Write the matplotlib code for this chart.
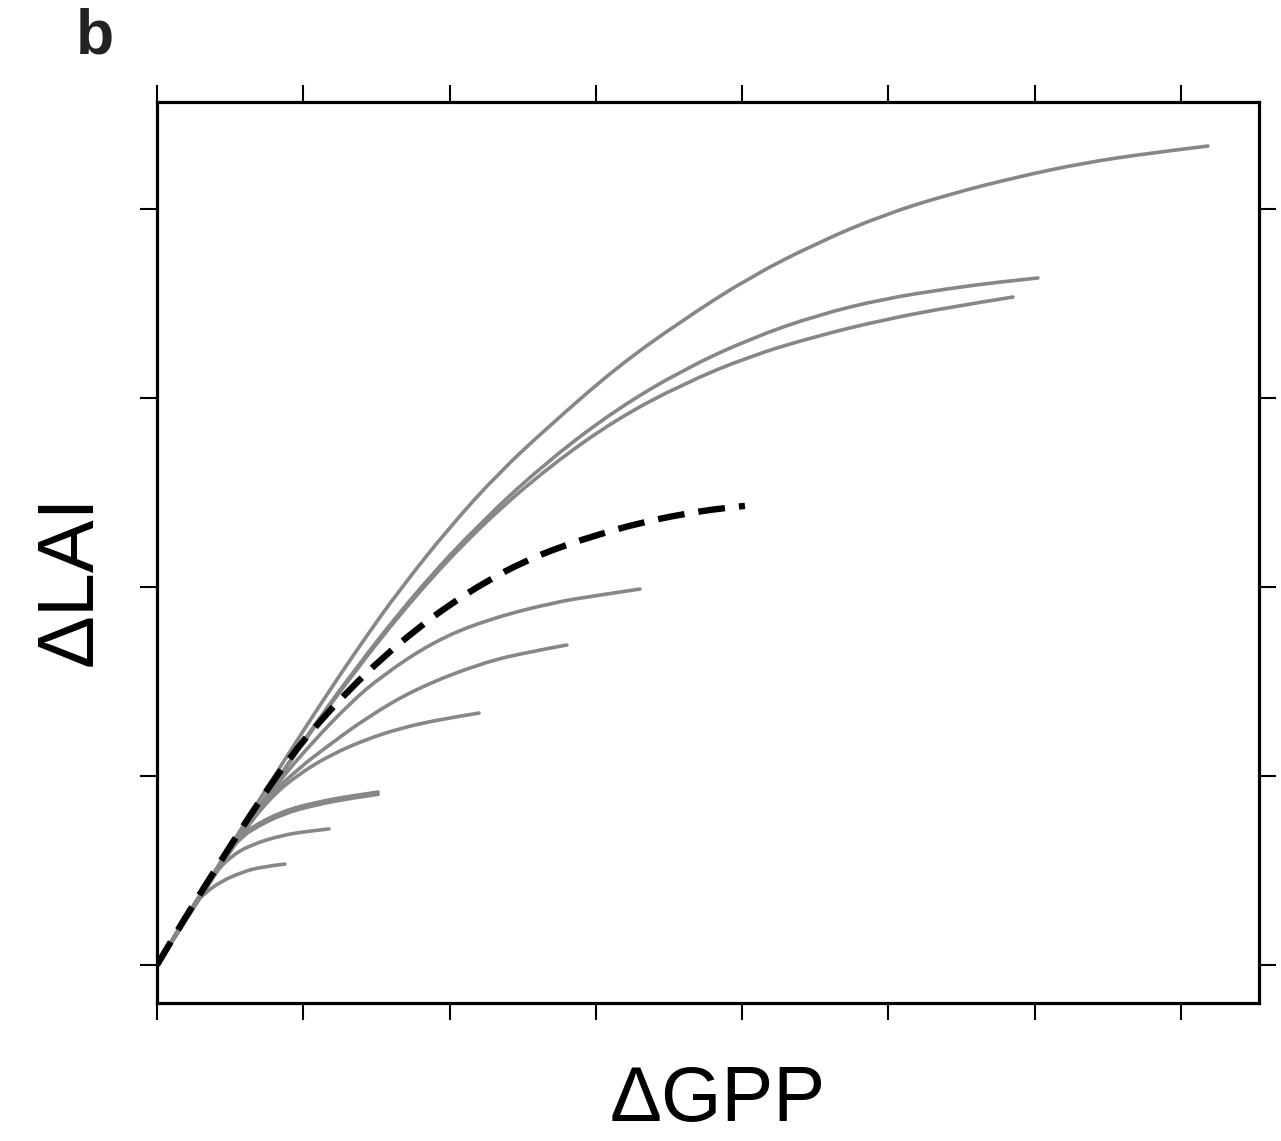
import matplotlib
matplotlib.use("Agg")
import matplotlib.pyplot as plt
from matplotlib.path import Path
from matplotlib.patches import PathPatch

# ---- data (arbitrary units, tick spacing = 1) ----
xA = [0, 0.109, 0.294, 0.567, 0.861, 1.135, 1.401, 1.661, 2.003, 2.344, 2.686, 3.144, 3.595, 4.053, 4.511, 4.962, 5.420, 5.878, 6.330, 6.787, 7.184]
yA = [0, 0.140, 0.371, 0.710, 1.072, 1.401, 1.707, 1.988, 2.320, 2.610, 2.855, 3.164, 3.413, 3.640, 3.820, 3.968, 4.079, 4.169, 4.243, 4.296, 4.333]

xB = [0, 0.294, 0.636, 0.977, 1.319, 1.777, 2.228, 2.686, 3.144, 3.595, 4.053, 4.511, 4.962, 5.420, 5.762, 6.022]
yB = [0, 0.360, 0.767, 1.159, 1.532, 1.981, 2.355, 2.676, 2.942, 3.149, 3.314, 3.438, 3.524, 3.580, 3.614, 3.635]

xC = [0, 0.294, 0.636, 0.977, 1.319, 1.777, 2.228, 2.686, 3.144, 3.595, 4.053, 4.511, 4.962, 5.420, 5.851]
yC = [0, 0.358, 0.763, 1.152, 1.522, 1.966, 2.335, 2.640, 2.890, 3.074, 3.222, 3.328, 3.413, 3.481, 3.534]

xE = [0, 0.294, 0.636, 0.841, 1.046, 1.319, 1.545, 1.887, 2.228, 2.686, 3.028, 3.301]
yE = [0, 0.360, 0.767, 0.979, 1.164, 1.386, 1.534, 1.709, 1.820, 1.915, 1.958, 1.989]

xF = [0, 0.294, 0.567, 0.772, 0.977, 1.135, 1.435, 1.777, 2.228, 2.550, 2.802]
yF = [0, 0.360, 0.693, 0.900, 1.045, 1.140, 1.310, 1.465, 1.600, 1.658, 1.693]

xG = [0, 0.294, 0.567, 0.772, 0.977, 1.203, 1.435, 1.661, 1.934, 2.201]
yG = [0, 0.360, 0.680, 0.885, 1.015, 1.118, 1.195, 1.252, 1.300, 1.333]

xH = [0, 0.294, 0.499, 0.567, 0.636, 0.861, 1.094, 1.319, 1.511]
yH1 = [0, 0.360, 0.619, 0.675, 0.725, 0.815, 0.862, 0.894, 0.915]
yH2 = [0, 0.360, 0.612, 0.664, 0.712, 0.801, 0.849, 0.882, 0.903]

xJ = [0, 0.157, 0.294, 0.396, 0.499, 0.636, 0.861, 1.046, 1.176]
yJ = [0, 0.201, 0.370, 0.487, 0.571, 0.635, 0.688, 0.709, 0.720]

xI = [0, 0.123, 0.246, 0.328, 0.431, 0.567, 0.704, 0.875]
yI = [0, 0.159, 0.317, 0.381, 0.439, 0.487, 0.519, 0.534]

xD = [0, 0.178, 0.362, 0.636, 0.909, 1.114, 1.319, 1.545, 1.777, 2.003, 2.256, 2.502, 2.755, 3.028, 3.301, 3.595, 3.869, 4.019]
yD = [0, 0.233, 0.460, 0.794, 1.101, 1.290, 1.460, 1.628, 1.778, 1.908, 2.032, 2.132, 2.212, 2.280, 2.339, 2.386, 2.418, 2.429]

gray_curves = [(xA, yA), (xB, yB), (xC, yC), (xE, yE), (xF, yF), (xG, yG),
               (xH, yH1), (xH, yH2), (xJ, yJ), (xI, yI)]

x_ticks = [0, 1, 2, 3, 4, 5, 6, 7]
y_ticks = [0, 1, 2, 3, 4]


def smooth_path(xs, ys):
    """Quadratic-Bezier path through the read points (drawn in data coords)."""
    pts = list(zip(xs, ys))
    verts = [pts[0]]
    codes = [Path.MOVETO]
    n = len(pts)
    for i in range(1, n - 1):
        nxt = pts[i + 1]
        end = nxt if i == n - 2 else ((pts[i][0] + nxt[0]) / 2, (pts[i][1] + nxt[1]) / 2)
        verts += [pts[i], end]
        codes += [Path.CURVE3, Path.CURVE3]
    if n == 2:
        verts.append(pts[1])
        codes.append(Path.LINETO)
    return Path(verts, codes)


# ---- figure ----
fig = plt.figure(figsize=(12.81, 11.41), dpi=100)
ax = fig.add_axes([157/1281, 1 - 1003/1141, (1259-157)/1281, (1003-102)/1141])

for xs, ys in gray_curves:
    ax.add_patch(PathPatch(smooth_path(xs, ys), fill=False, edgecolor="#878787",
                           lw=2.6, capstyle="round", joinstyle="round", zorder=2))

ax.add_patch(PathPatch(smooth_path(xD, yD), fill=False, edgecolor="black",
                       lw=4.6, linestyle=(0, (4.2, 2.2)), capstyle="butt", zorder=3))

ax.set_xlim(0, 7.533)
ax.set_ylim(-0.201, 4.566)
ax.set_xticks(x_ticks)
ax.set_yticks(y_ticks)
ax.tick_params(axis="both", which="both", direction="out", length=12, width=1.5,
               color="black", labelbottom=False, labelleft=False,
               top=True, right=True, bottom=True, left=True)
for s in ax.spines.values():
    s.set_linewidth(2.3)
    s.set_color("black")

fig.text(71/1281, 1 - 580/1141, "ΔLAI", rotation=90, ha="center", va="center",
         fontsize=57, family=["Liberation Sans", "DejaVu Sans"], color="black")
fig.text(718/1281, 1 - 1101/1141, "ΔGPP", ha="center", va="center",
         fontsize=56, family=["Liberation Sans", "DejaVu Sans"], color="black")
fig.text(95/1281, 1 - 37/1141, "b", ha="center", va="center",
         fontsize=45, fontweight="bold", family=["Liberation Sans", "DejaVu Sans"],
         color="#222222")

fig.savefig("out.png", dpi=100, facecolor="white")
